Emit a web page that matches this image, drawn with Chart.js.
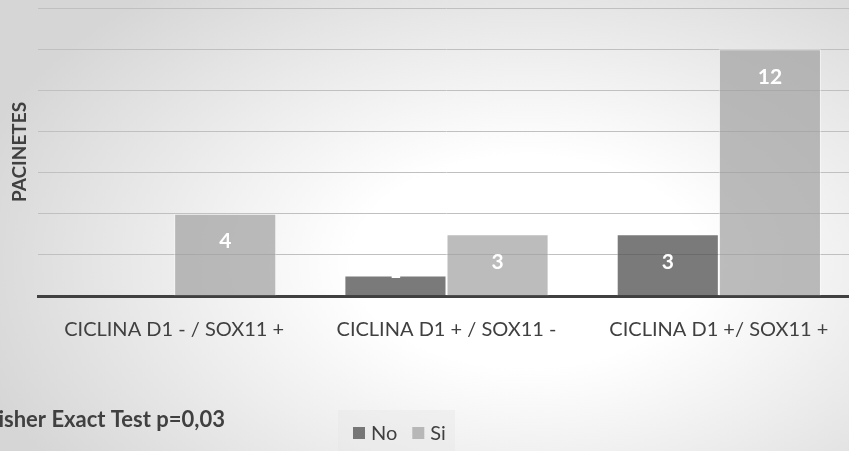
<!DOCTYPE html>
<html>
<head>
<meta charset="utf-8">
<script src="https://cdn.jsdelivr.net/npm/chart.js@4/dist/chart.umd.min.js"></script>
<style>
  html, body { margin: 0; padding: 0; width: 849px; height: 451px; overflow: hidden; }
  body { background: radial-gradient(ellipse 68% 78% at 62% 58%, #ffffff 30%, #d6d6d6 100%); }
  #wrap { position: absolute; left: 0; top: 0; width: 855px; height: 451px; }
</style>
</head>
<body>
<div id="wrap"><canvas id="chart"></canvas></div>
<script>
// Patients by cyclin D1 / SOX11 profile
const categories = ['CICLINA D1 - / SOX11 +', 'CICLINA D1 + / SOX11 -', 'CICLINA D1 +/ SOX11 +'];
const seriesNames = ['No', 'Si'];
const noValues = [0, 1, 3];
const siValues = [4, 3, 12];
const yMax = 14;
const yStep = 2;
const axisTitle = 'PACINETES';
const noteText = 'Fisher Exact Test p=0,03';

const FONT = 'Lato, "Open Sans", sans-serif';
const TEXT = '#404040';

// value labels inside the top of each bar, clipped to the bar
const barLabels = {
  id: 'barLabels',
  afterDatasetsDraw(chart) {
    const ctx = chart.ctx;
    chart.data.datasets.forEach((ds, di) => {
      const meta = chart.getDatasetMeta(di);
      meta.data.forEach((bar, i) => {
        const v = ds.data[i];
        if (!v) return;
        const left = bar.x - bar.width / 2;
        const top = bar.y, bottom = bar.base;
        const cy = Math.min(top + 28, bottom - 24);
        ctx.save();
        ctx.beginPath();
        ctx.rect(left, top, bar.width, bottom - top);
        ctx.clip();
        ctx.fillStyle = '#ffffff';
        ctx.font = 'bold 21px ' + FONT;
        ctx.textAlign = 'center';
        ctx.textBaseline = 'middle';
        ctx.fillText(String(v), bar.x, cy);
        ctx.restore();
      });
    });
  }
};

// legend box and test note under the plot
const footer = {
  id: 'footer',
  afterDraw(chart) {
    const ctx = chart.ctx;
    ctx.save();
    // legend panel
    ctx.fillStyle = 'rgba(230,230,230,0.4)';
    ctx.fillRect(338, 410, 117, 41);
    ctx.font = '20px ' + FONT;
    ctx.textBaseline = 'alphabetic';
    ctx.textAlign = 'left';
    let x = 353;
    chart.data.datasets.forEach(ds => {
      ctx.fillStyle = ds.backgroundColor;
      ctx.fillRect(x, 427, 12, 12);
      ctx.fillStyle = TEXT;
      ctx.fillText(ds.label, x + 18, 440);
      x += 18 + ctx.measureText(ds.label).width + 15;
    });
    // statistical note
    ctx.font = 'bold 22px ' + FONT;
    ctx.textAlign = 'right';
    ctx.fillStyle = TEXT;
    ctx.fillText(noteText, 225, 427);
    ctx.restore();
  }
};

new Chart(document.getElementById('chart'), {
  type: 'bar',
  data: {
    labels: categories,
    datasets: [
      { label: seriesNames[0], data: noValues, backgroundColor: 'rgba(85,85,85,0.78)',
        borderColor: 'rgba(255,255,255,0.35)', borderWidth: 1 },
      { label: seriesNames[1], data: siValues, backgroundColor: 'rgba(160,160,160,0.7)',
        borderColor: 'rgba(255,255,255,0.5)', borderWidth: 1 }
    ]
  },
  options: {
    responsive: true,
    maintainAspectRatio: false,
    animation: false,
    layout: { padding: { top: 8, left: 0, right: 0, bottom: 0 } },
    categoryPercentage: 0.75,
    barPercentage: 1.0,
    plugins: { legend: { display: false }, tooltip: { enabled: false } },
    scales: {
      x: {
        grid: { display: false },
        border: { display: true, color: '#404040', width: 3 },
        ticks: { color: TEXT, font: { family: FONT, size: 20 }, padding: 14, maxRotation: 0 },
        afterFit(scale) { scale.height = 155; }
      },
      y: {
        min: 0,
        max: yMax,
        ticks: { display: false, stepSize: yStep },
        grid: { color: '#c0c0c0', lineWidth: 1, drawTicks: false },
        border: { display: false },
        title: { display: true, text: axisTitle, color: TEXT,
                 font: { family: FONT, size: 19, weight: 'bold' }, padding: { top: 8, bottom: 0 } },
        afterFit(scale) { scale.width = 38; }
      }
    }
  },
  plugins: [barLabels, footer]
});
</script>
</body>
</html>
